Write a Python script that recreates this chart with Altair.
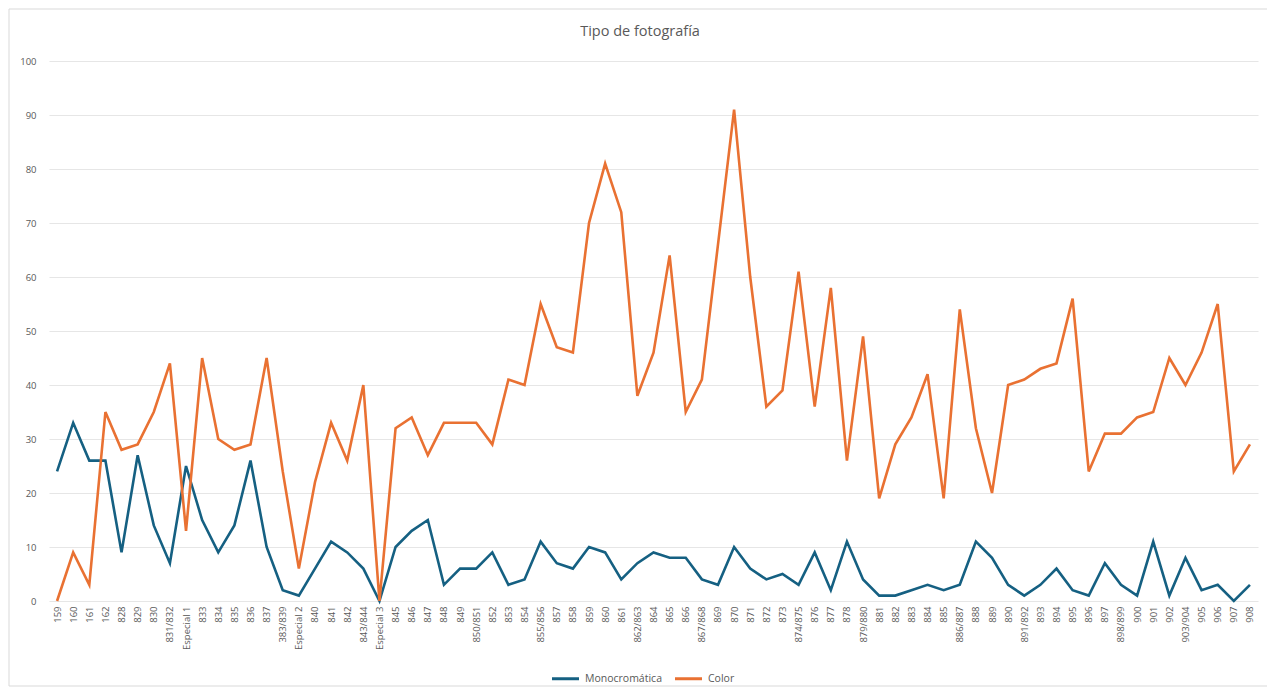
import altair as alt
import pandas as pd

labels = ["159", "160", "161", "162", "828", "829", "830", "831/832", "Especial 1", "833",
          "834", "835", "836", "837", "383/839", "Especial 2", "840", "841", "842", "843/844",
          "Especial 3", "845", "846", "847", "848", "849", "850/851", "852", "853", "854",
          "855/856", "857", "858", "859", "860", "861", "862/863", "864", "865", "866",
          "867/868", "869", "870", "871", "872", "873", "874/875", "876", "877", "878",
          "879/880", "881", "882", "883", "884", "885", "886/887", "888", "889", "890",
          "891/892", "893", "894", "895", "896", "897", "898/899", "900", "901", "902",
          "903/904", "905", "906", "907", "908"]

mono = [24, 33, 26, 26, 9, 27, 14, 7, 25, 15,
        9, 14, 26, 10, 2, 1, 6, 11, 9, 6,
        0, 10, 13, 15, 3, 6, 6, 9, 3, 4,
        11, 7, 6, 10, 9, 4, 7, 9, 8, 8,
        4, 3, 10, 6, 4, 5, 3, 9, 2, 11,
        4, 1, 1, 2, 3, 2, 3, 11, 8, 3,
        1, 3, 6, 2, 1, 7, 3, 1, 11, 1,
        8, 2, 3, 0, 3]

color = [0, 9, 3, 35, 28, 29, 35, 44, 13, 45,
         30, 28, 29, 45, 24, 6, 22, 33, 26, 40,
         0, 32, 34, 27, 33, 33, 33, 29, 41, 40,
         55, 47, 46, 70, 81, 72, 38, 46, 64, 35,
         41, 66, 91, 60, 36, 39, 61, 36, 58, 26,
         49, 19, 29, 34, 42, 19, 54, 32, 20, 40,
         41, 43, 44, 56, 24, 31, 31, 34, 35, 45,
         40, 46, 55, 24, 29]

series = ["Monocromática", "Color"]
series_colors = ["#156082", "#E97132"]
title_text = "Tipo de fotografía"

df = pd.concat([
    pd.DataFrame({"Número": labels, "Valor": mono, "Serie": series[0], "orden": 0}),
    pd.DataFrame({"Número": labels, "Valor": color, "Serie": series[1], "orden": 1}),
])

W, H = 1209, 540
FONT = "Open Sans"
GRAY = "#595959"

lines = alt.Chart(df).mark_line(strokeWidth=2.6, strokeJoin="miter", clip=False).encode(
    x=alt.X("Número:N", sort=labels, scale=alt.Scale(type="point", padding=0.5),
            axis=alt.Axis(title=None, labelAngle=-90, labelFontSize=9.5, labelColor=GRAY,
                          labelFont=FONT, ticks=False, domain=False, grid=False,
                          labelPadding=5, labelOverlap=False, labelLimit=200)),
    y=alt.Y("Valor:Q", scale=alt.Scale(domain=[0, 100], nice=False),
            axis=alt.Axis(title=None, values=list(range(0, 101, 10)), labelFontSize=9.5,
                          labelColor=GRAY, labelFont=FONT, ticks=False, domain=False,
                          grid=True, gridColor="#e6e6e6", gridWidth=1.2, labelPadding=13)),
    color=alt.Color("Serie:N", sort=series,
                    scale=alt.Scale(domain=series, range=series_colors),
                    legend=alt.Legend(title=None, orient="none", direction="horizontal",
                                      legendX=501, legendY=602, symbolType="stroke",
                                      symbolStrokeWidth=3, symbolSize=730,
                                      labelFontSize=10.5, labelColor=GRAY, labelFont=FONT,
                                      columnPadding=6, labelOffset=4)),
    order="orden:Q",
)

frame = alt.Chart(pd.DataFrame({"k": [0]})).mark_rect(
    fill=None, stroke="#d9d9d9", strokeWidth=1, clip=False
).encode(
    x=alt.value(-40), x2=alt.value(1221), y=alt.value(-52), y2=alt.value(625)
)

title = alt.Chart(pd.DataFrame({"t": [title_text]})).mark_text(
    font=FONT, fontSize=14.5, color=GRAY, align="center", baseline="middle", clip=False
).encode(
    text="t:N", x=alt.value(591), y=alt.value(-29)
)

chart = alt.layer(frame, lines, title).properties(
    width=W, height=H,
    autosize=alt.AutoSizeParams(type="none"),
    padding={"left": 41, "top": 53, "right": 9, "bottom": 87},
).configure_view(stroke=None)

chart.save("out.html", embed_options={"renderer": "svg", "actions": False})
